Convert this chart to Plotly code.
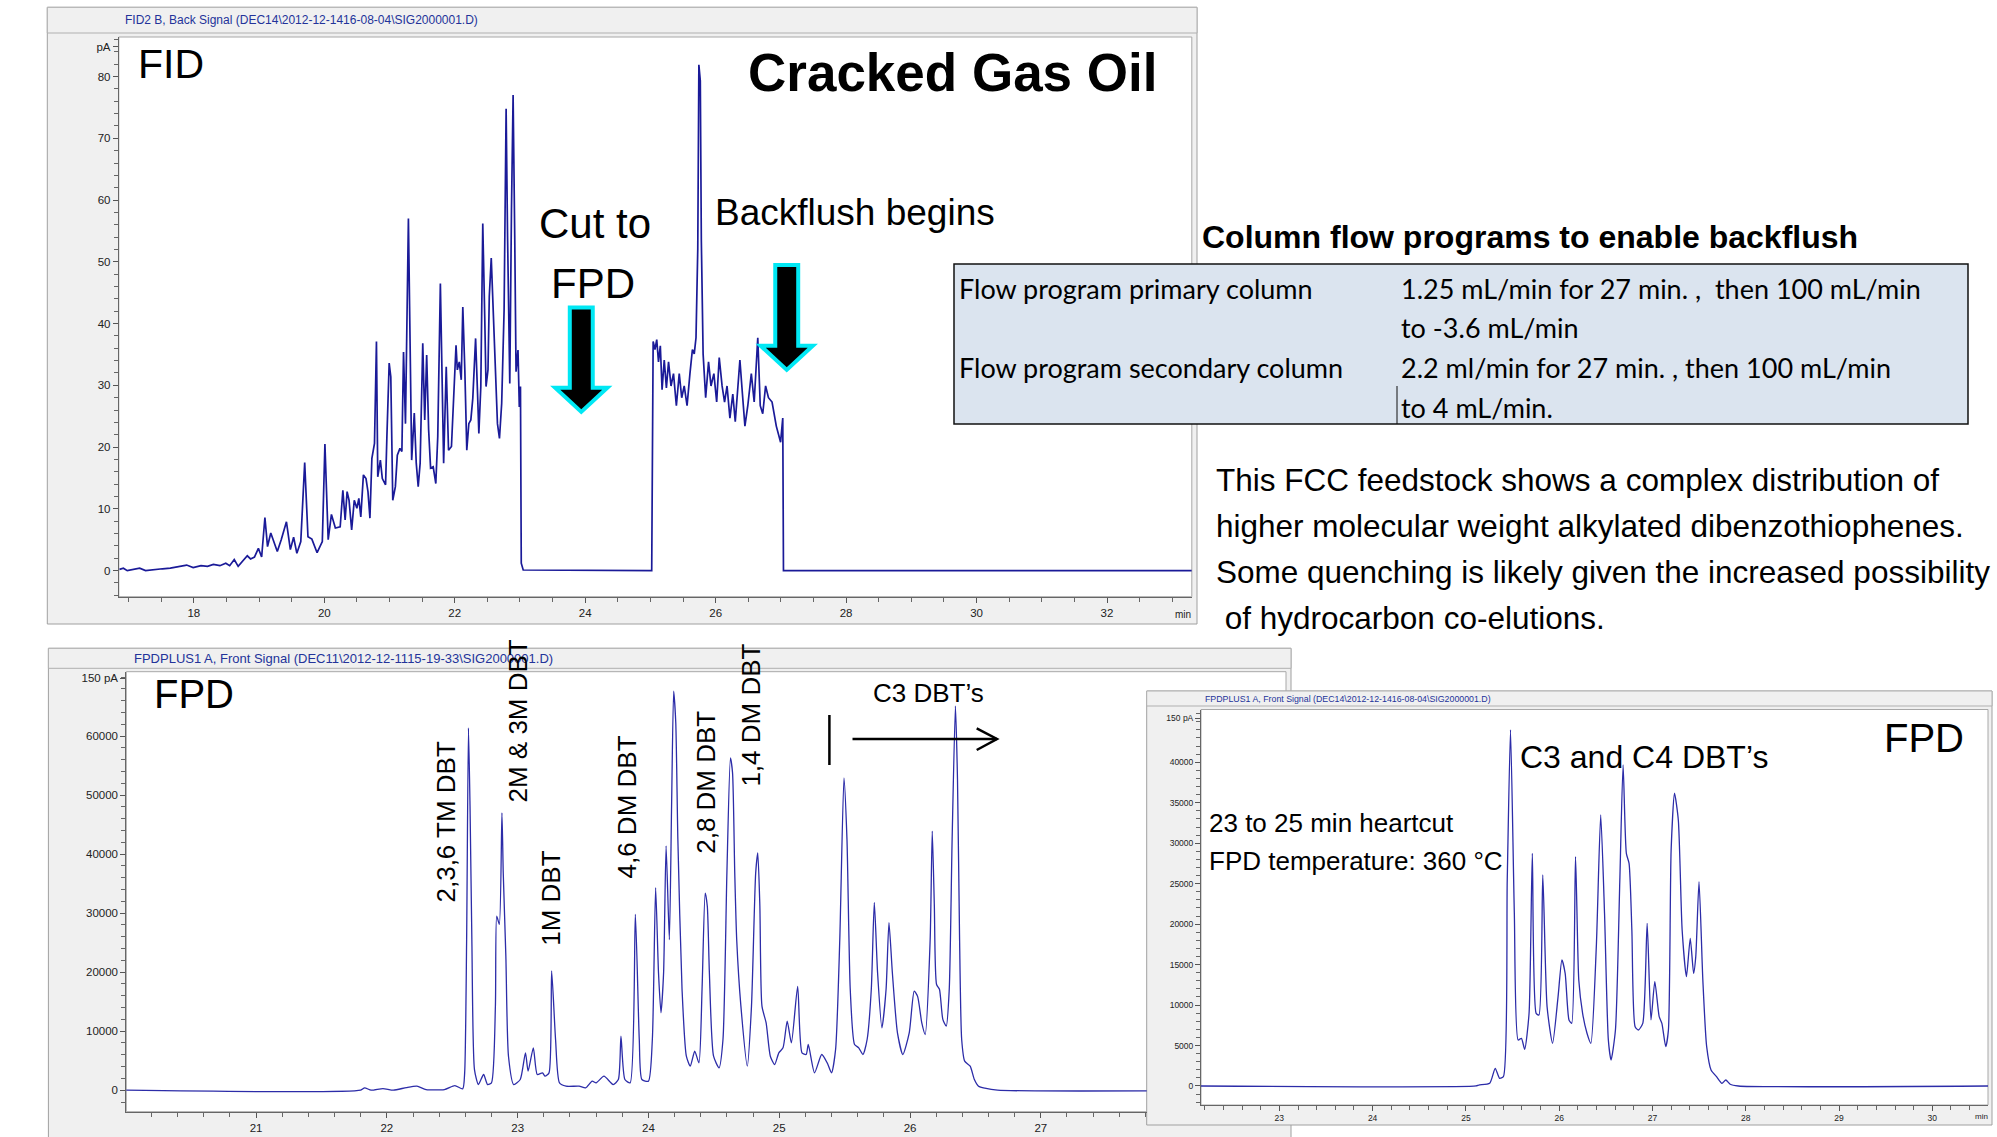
import plotly.graph_objects as go

W, H = 1997, 1137

# ---------------- data ----------------
# FID chromatogram (time in min, signal in pA)
fid_time = [16.86, 16.92, 16.98, 17.08, 17.17, 17.26, 17.39, 17.52, 17.64, 17.80, 17.89, 17.99,
            18.11, 18.21, 18.30, 18.40, 18.49, 18.55, 18.62, 18.68, 18.75, 18.82, 18.87, 18.93,
            18.99, 19.04, 19.09, 19.13, 19.18, 19.23, 19.28, 19.34, 19.42, 19.48, 19.53, 19.58,
            19.64, 19.70, 19.75, 19.81, 19.89, 19.97, 20.01, 20.06, 20.11, 20.17, 20.244,
            20.285, 20.32, 20.35, 20.38, 20.42, 20.46, 20.50, 20.53, 20.56, 20.60, 20.64, 20.67,
            20.70, 20.73, 20.77, 20.80, 20.82, 20.86, 20.89, 20.94, 20.96, 20.995, 21.02, 21.05,
            21.09, 21.12, 21.16, 21.19, 21.215, 21.245, 21.29, 21.32, 21.34, 21.38, 21.41, 21.44,
            21.47, 21.51, 21.54, 21.57, 21.60, 21.63, 21.67, 21.71, 21.74, 21.78, 21.81, 21.83,
            21.87, 21.905, 21.95, 21.98, 22.02, 22.04, 22.07, 22.10, 22.124, 22.155, 22.185,
            22.216, 22.247, 22.277, 22.32, 22.35, 22.37, 22.40, 22.43, 22.46, 22.48, 22.51, 22.53,
            22.56, 22.59, 22.625, 22.655, 22.686, 22.72, 22.757, 22.788, 22.81, 22.844, 22.87,
            22.895, 22.92, 22.94, 22.97, 22.99, 23.008, 23.02, 23.05, 25.02,
            25.042, 25.070, 25.097, 25.124, 25.152, 25.179, 25.212, 25.245, 25.278, 25.316,
            25.354, 25.398, 25.442, 25.480, 25.518, 25.562, 25.606, 25.644, 25.672, 25.699,
            25.726, 25.743, 25.765, 25.781, 25.808, 25.847, 25.891, 25.929, 25.973, 26.016,
            26.055, 26.099, 26.137, 26.175, 26.219, 26.263, 26.301, 26.372, 26.411, 26.449,
            26.493, 26.547, 26.591, 26.646, 26.684, 26.722, 26.766, 26.810, 26.865, 26.930,
            26.996, 27.029, 27.040, 33.30]
fid_signal = [0.2, 0.4, 0.0, 0.2, 0.4, 0.0, 0.2, 0.3, 0.4, 0.7, 0.9, 0.5,
              0.8, 0.7, 1.0, 0.8, 1.2, 0.8, 1.8, 0.7, 1.5, 2.4, 1.9, 2.2,
              3.6, 2.2, 8.6, 3.9, 6.1, 4.5, 3.1, 5.0, 7.9, 3.4, 5.4, 2.8,
              4.7, 17.5, 5.5, 5.1, 2.9, 4.7, 20.5, 5.0, 9.1, 6.9, 7.1,
              13.0, 8.2, 12.8, 11.4, 6.6, 11.4, 10.1, 11.7, 8.7, 15.5, 14.9, 12.8,
              8.5, 18.2, 20.6, 37.1, 15.2, 17.9, 14.9, 13.9, 21.7, 33.6, 31.4, 11.4,
              13.6, 18.7, 19.8, 19.3, 35.4, 23.8, 57.0, 27.6, 17.9, 25.5, 17.4, 13.6,
              17.4, 36.8, 24.4, 34.9, 22.8, 16.6, 16.8, 14.1, 21.7, 46.5, 24.4, 17.4,
              33.0, 19.5, 20.1, 26.5, 36.5, 32.5, 33.8, 30.9, 42.7, 32.5, 19.5,
              23.8, 24.4, 27.9, 37.6, 28.7, 22.2, 29.8, 56.2, 41.1, 29.8, 32.5, 44.4,
              50.6, 42.7, 33.6, 23.8, 21.4, 27.1, 42.2, 74.8, 54.1, 30.3, 58.4,
              77.0, 54.1, 32.2, 35.7, 26.5, 29.8, 1.2, 0.1, 0.0,
              37.1, 35.8, 37.4, 33.8, 36.4, 29.3, 34.1, 29.6, 33.8, 29.9,
              31.9, 26.7, 31.9, 28.0, 29.9, 26.7, 31.9, 35.8, 35.1, 37.7,
              52.0, 81.9, 79.3, 53.3, 35.1, 28.0, 33.8, 29.9, 31.9, 27.3,
              34.5, 29.9, 27.3, 29.9, 24.7, 28.6, 24.1, 34.1, 28.6, 23.4,
              26.7, 31.9, 27.3, 37.7, 26.7, 25.4, 29.9, 28.0, 27.3, 23.4,
              20.8, 24.7, 0.0, 0.0]

# FPD chromatogram, full run (DEC11)
fpd1_time = [20.0, 21.80, 21.83, 21.88, 21.97, 22.05, 22.15, 22.23, 22.30, 22.44, 22.52, 22.58,
             22.595, 22.61, 22.624, 22.636, 22.65, 22.67, 22.70, 22.74, 22.77, 22.80, 22.83,
             22.84, 22.86, 22.88, 22.89, 22.91, 22.93, 22.97, 23.02, 23.06, 23.08, 23.12, 23.15,
             23.19, 23.21, 23.24, 23.26, 23.29, 23.32, 23.37, 23.47, 23.52, 23.57, 23.60, 23.66,
             23.73, 23.77, 23.79, 23.82, 23.86, 23.90, 23.93, 23.95, 24.00, 24.03, 24.055,
             24.077, 24.096, 24.116, 24.135, 24.16, 24.177, 24.193, 24.209, 24.225, 24.257,
             24.29, 24.32, 24.354, 24.386, 24.41, 24.434, 24.45, 24.466, 24.498, 24.54, 24.57,
             24.60, 24.627, 24.643, 24.66, 24.675, 24.707, 24.756, 24.788, 24.82, 24.836,
             24.852, 24.868, 24.90, 24.932, 24.965, 24.997, 25.029, 25.061, 25.093, 25.141,
             25.174, 25.206, 25.222, 25.27, 25.325, 25.367, 25.40, 25.431, 25.463, 25.495,
             25.518, 25.543, 25.576, 25.608, 25.64, 25.672, 25.704, 25.727, 25.752, 25.785,
             25.817, 25.839, 25.865, 25.904, 25.945, 25.994, 26.032, 26.058, 26.09, 26.116,
             26.154, 26.17, 26.186, 26.203, 26.225, 26.251, 26.277, 26.30, 26.322, 26.347,
             26.363, 26.379, 26.395, 26.418, 26.46, 26.492, 26.524, 26.572, 26.669, 28.9]
fpd1_signal = [0, 0, 400, 0, 280, 0, 450, 680, 110, 110, 790, 230,
               2940, 25500, 61400, 48100, 25500, 3500, 960, 2660, 960, 1240, 14240,
               29500, 28100, 47000, 36800, 22700, 5760, 960, 1810, 6330, 3220, 7180, 2660,
               2940, 2370, 2940, 20200, 8590, 1240, 680, 680, 400, 1530, 1240, 2370,
               960, 1810, 9150, 1810, 1240, 29800, 8590, 1810, 1530, 8590, 34300,
               19900, 13100, 19900, 41400, 25500, 48100, 67600, 62300, 42500, 17100,
               5760, 4070, 6610, 4630, 17100, 33400, 31200, 19900, 5760, 3790, 8590,
               36800, 56300, 53800, 36800, 25500, 14240, 4070, 14240, 36800, 40200,
               31200, 14240, 11400, 5760, 4350, 6330, 7180, 11700, 8020, 17600,
               6330, 6050, 7740, 2940, 6050, 4630, 2940, 6890, 25500, 52900,
               42500, 17100, 7740, 7180, 6050, 8590, 17100, 31800, 19900, 10570,
               17100, 28400, 19900, 9720, 6050, 9720, 16800, 15900, 11400, 9440,
               25500, 43900, 31200, 17900, 17100, 12000, 10850, 17100, 42500, 65100,
               52700, 25500, 8590, 4920, 4070, 1810, 680, 340, 0, 0]

# FPD chromatogram, 23-25 min heartcut (DEC14)
fpd2_time = [22.14, 25.109, 25.138, 25.255, 25.314, 25.361, 25.402, 25.443, 25.478, 25.519,
             25.56, 25.595, 25.63, 25.677, 25.712, 25.753, 25.783, 25.824, 25.87, 25.929,
             25.988, 26.029, 26.064, 26.105, 26.134, 26.175, 26.21, 26.251, 26.298, 26.339,
             26.398, 26.445, 26.486, 26.527, 26.556, 26.603, 26.65, 26.685, 26.72, 26.749,
             26.779, 26.814, 26.849, 26.896, 26.943, 26.984, 27.025, 27.072, 27.101, 27.142,
             27.171, 27.2, 27.236, 27.277, 27.318, 27.364, 27.405, 27.441, 27.464, 27.499,
             27.54, 27.581, 27.628, 27.687, 27.745, 27.786, 27.833, 27.921, 30.6]
fpd2_signal = [0, 0, 120, 330, 2180, 950, 1150, 25460, 44000, 21340,
               5680, 5890, 4530, 8980, 28750, 8980, 8770, 26070, 9800, 5270,
               11040, 15570, 13920, 8160, 7740, 28340, 13100, 8980, 6510, 5270,
               17220, 33490, 21340, 5680, 3210, 6920, 25460, 39670, 28750, 27510,
               19280, 7330, 6920, 7740, 20100, 8160, 12890, 8570, 7740, 4860,
               6920, 29160, 36170, 32870, 19280, 13510, 18250, 13920, 15980, 25250,
               13100, 4860, 1980, 1150, 330, 740, 210, 0, 0]

# tick labels
fid_xticks = [18, 20, 22, 24, 26, 28, 30, 32]
fid_yticks = [0, 10, 20, 30, 40, 50, 60, 70, 80, 84.8]
fid_yticktext = ["0", "10", "20", "30", "40", "50", "60", "70", "80", "pA"]
fpd1_xticks = [21, 22, 23, 24, 25, 26, 27]
fpd1_yticks = [0, 10000, 20000, 30000, 40000, 50000, 60000, 69800]
fpd1_yticktext = ["0", "10000", "20000", "30000", "40000", "50000", "60000", "150 pA"]
fpd2_xticks = [23, 24, 25, 26, 27, 28, 29, 30]
fpd2_yticks = [0, 5000, 10000, 15000, 20000, 25000, 30000, 35000, 40000, 45430]
fpd2_yticktext = ["0", "5000", "10000", "15000", "20000", "25000", "30000", "35000", "40000", "150 pA"]

# table contents
table_rows = [("Flow program primary column", "1.25 mL/min for 27 min. ,  then 100 mL/min"),
              ("", "to -3.6 mL/min"),
              ("Flow program secondary column", "2.2 ml/min for 27 min. , then 100 mL/min"),
              ("", "to 4 mL/min.")]
paragraph = ["This FCC feedstock shows a complex distribution of",
             "higher molecular weight alkylated dibenzothiophenes.",
             "Some quenching is likely given the increased possibility",
             " of hydrocarbon co-elutions."]

# ---------------- helpers ----------------
def px(x):
    return x / W

def py(y):
    return 1 - y / H

SANS = "Liberation Sans, Arial, sans-serif"

fig = go.Figure()
fig.add_trace(go.Scatter(x=fid_time, y=fid_signal, mode="lines", xaxis="x", yaxis="y",
                         line=dict(color="#1a1a98", width=1.7), showlegend=False, hoverinfo="skip"))
fig.add_trace(go.Scatter(x=fpd1_time, y=fpd1_signal, mode="lines", xaxis="x2", yaxis="y2",
                         line=dict(color="#2c2ca8", width=1.3, shape="spline", smoothing=0.6),
                         showlegend=False, hoverinfo="skip"))
fig.add_trace(go.Scatter(x=fpd2_time, y=fpd2_signal, mode="lines", xaxis="x3", yaxis="y3",
                         line=dict(color="#2c2ca8", width=1.3, shape="spline", smoothing=0.6),
                         showlegend=False, hoverinfo="skip"))


def xax(domain, rng, tickvals, minor_dtick, size):
    return dict(domain=[px(domain[0]), px(domain[1])], range=rng, tickmode="array",
                tickvals=tickvals, ticks="outside", ticklen=5, tickcolor="#555",
                showline=True, linecolor="#666", linewidth=1, showgrid=False, zeroline=False,
                tickfont=dict(family=SANS, size=size, color="#222"),
                minor=dict(tickmode="linear", tick0=0, dtick=minor_dtick, ticks="outside",
                           ticklen=4, tickcolor="#666", showgrid=False))


def yax(domain, rng, tickvals, ticktext, minor_dtick, size, anchor):
    return dict(domain=[py(domain[1]), py(domain[0])], range=rng, tickmode="array",
                tickvals=tickvals, ticktext=ticktext, ticks="outside", ticklen=5,
                tickcolor="#555", showline=True, linecolor="#666", linewidth=1,
                showgrid=False, zeroline=False, anchor=anchor,
                tickfont=dict(family=SANS, size=size, color="#222"),
                minor=dict(tickmode="linear", tick0=0, dtick=minor_dtick, ticks="outside",
                           ticklen=4, tickcolor="#666", showgrid=False))


layout = dict(
    width=W, height=H, autosize=False,
    margin=dict(l=0, r=0, t=0, b=0, pad=0),
    paper_bgcolor="white", plot_bgcolor="rgba(0,0,0,0)",
    xaxis=xax((118.8, 1191.8), [16.85, 33.30], fid_xticks, 0.5, 11.5),
    yaxis=yax((37, 596.7), [-4.22, 86.4], fid_yticks, fid_yticktext, 2, 11.5, "x"),
    xaxis2=xax((126.3, 1146.7), [20.008, 27.8096], fpd1_xticks, 0.2, 11.5),
    yaxis2=yax((671.7, 1111.7), [-3643, 70908], fpd1_yticks, fpd1_yticktext, 2000, 11.5, "x2"),
    xaxis3=xax((1201, 1988), [22.16, 30.597], fpd2_xticks, 0.2, 8.5),
    yaxis3=yax((709.5, 1105), [-2350, 46520], fpd2_yticks, fpd2_yticktext, 1000, 8.5, "x3"),
)
layout["xaxis"]["anchor"] = "y"
layout["xaxis2"]["anchor"] = "y2"
layout["xaxis3"]["anchor"] = "y3"
fig.update_layout(**layout)

shapes = []

def rect(x0, y0, x1, y1, fill, line="#a0a0a0", width=1, layer="below"):
    shapes.append(dict(type="rect", xref="paper", yref="paper", x0=px(x0), x1=px(x1),
                       y0=py(y1), y1=py(y0), fillcolor=fill,
                       line=dict(color=line, width=width), layer=layer))

# FID window
rect(47.3, 7.3, 1197, 624, "#f0f0f0")
rect(47.3, 7.3, 1197, 33, "#f0f0f0", "#b0b0b0")
rect(118.8, 37, 1191.8, 596.7, "white", "#a8a8a8")
# FPD window (full run)
rect(48.4, 648.3, 1291, 1145, "#f0f0f0")
rect(48.4, 648.3, 1291, 668.3, "#f0f0f0", "#b0b0b0")
rect(126.3, 671.7, 1286, 1111.7, "white", "#a8a8a8")
# FPD window (heartcut)
rect(1146.7, 691, 1992, 1125, "#f0f0f0")
rect(1146.7, 691, 1992, 706, "#f0f0f0", "#b0b0b0")
rect(1201, 709.5, 1988, 1105, "white", "#a8a8a8")
# table
rect(954, 264, 1968, 424, "#dbe4ef", "#111111", 1.5)
shapes.append(dict(type="line", xref="paper", yref="paper", x0=px(1397), x1=px(1397),
                   y0=py(386), y1=py(424), line=dict(color="#111111", width=1)))

# block arrows in FID panel (data coordinates of the FID axes)
def block_arrow(tc, top, base, tip):
    hw, hh = 0.176, 0.40
    path = (f"M {tc-hw},{top} L {tc+hw},{top} L {tc+hw},{base} L {tc+hh},{base} "
            f"L {tc},{tip} L {tc-hh},{base} L {tc-hw},{base} Z")
    shapes.append(dict(type="path", xref="x", yref="y", path=path, fillcolor="black",
                       line=dict(color="#00e8f4", width=4), layer="above"))

block_arrow(23.94, 42.6, 29.6, 25.7)
block_arrow(27.09, 49.5, 36.4, 32.5)

# C3 DBT marker and arrow in FPD panel
shapes.append(dict(type="line", xref="paper", yref="paper", x0=px(829.4), x1=px(829.4),
                   y0=py(715), y1=py(765), line=dict(color="black", width=2.5)))
shapes.append(dict(type="line", xref="paper", yref="paper", x0=px(852.5), x1=px(997),
                   y0=py(739), y1=py(739), line=dict(color="black", width=2.5)))
shapes.append(dict(type="path", xref="paper", yref="paper",
                   path=f"M {px(976.7)},{py(728.3)} L {px(997)},{py(739)} L {px(976.7)},{py(750)}",
                   line=dict(color="black", width=2.5)))

fig.update_layout(shapes=shapes)

ann = []

def text(t, x, y, size, anchor="left", color="black", family=SANS, angle=0):
    ann.append(dict(text=t, x=px(x), y=py(y), xref="paper", yref="paper", showarrow=False,
                    xanchor=anchor, yanchor="middle", textangle=angle,
                    font=dict(family=family, size=size, color=color)))

# window titles
text("FID2 B, Back Signal (DEC14\\2012-12-1416-08-04\\SIG2000001.D)", 123, 20, 12, color="#23339a")
text("FPDPLUS1 A, Front Signal (DEC11\\2012-12-1115-19-33\\SIG2000001.D)", 131.7, 658, 13, color="#23339a")
text("FPDPLUS1 A, Front Signal (DEC14\\2012-12-1416-08-04\\SIG2000001.D)", 1203, 699, 8.8, color="#23339a")
text("min", 1183, 614.5, 10, "center", "#222")
text("min", 1981, 1116.7, 8, "center", "#222")

# FID panel labels
text("FID", 136, 64, 41)
text("<b>Cracked Gas Oil</b>", 952.5, 72, 53, "center")
text("Cut to", 595, 223, 42, "center")
text("FPD", 592.5, 283, 42, "center")
text("Backflush begins", 855, 213, 37, "center")

# right-hand text
text("<b>Column flow programs to enable backflush</b>", 1200.4, 237, 32)
row_y = [288, 327.5, 367.5, 407]
for (c1, c2), yy in zip(table_rows, row_y):
    if c1:
        text(c1, 956.7, yy, 27, family="Lato, sans-serif")
    text(c2, 1399, yy, 27, family="Lato, sans-serif")
para_y = [480, 526, 572, 618]
for line, yy in zip(paragraph, para_y):
    text(line, 1214, yy, 31.5)

# FPD (full run) labels
text("FPD", 151.5, 694, 40)
text("2,3,6 TM DBT", 445, 822.5, 26, "center", angle=-90)
text("2M &amp; 3M DBT", 517.5, 721, 26, "center", angle=-90)
text("1M DBT", 551.5, 898.3, 26, "center", angle=-90)
text("4,6 DM DBT", 626, 807.5, 26, "center", angle=-90)
text("2,8 DM DBT", 705.3, 782.5, 26, "center", angle=-90)
text("1,4 DM DBT", 750.6, 715, 26, "center", angle=-90)
text("C3 DBT\u2019s", 928.3, 693, 26, "center")

# FPD (heartcut) labels
text("FPD", 1924, 738, 40, "center")
text("C3 and C4 DBT\u2019s", 1643.5, 757, 32, "center")
text("23 to 25 min heartcut", 1206.7, 823, 26)
text("FPD temperature: 360 \u00b0C", 1206.7, 861, 26)

fig.update_layout(annotations=ann)

fig.write_html("out.html")
